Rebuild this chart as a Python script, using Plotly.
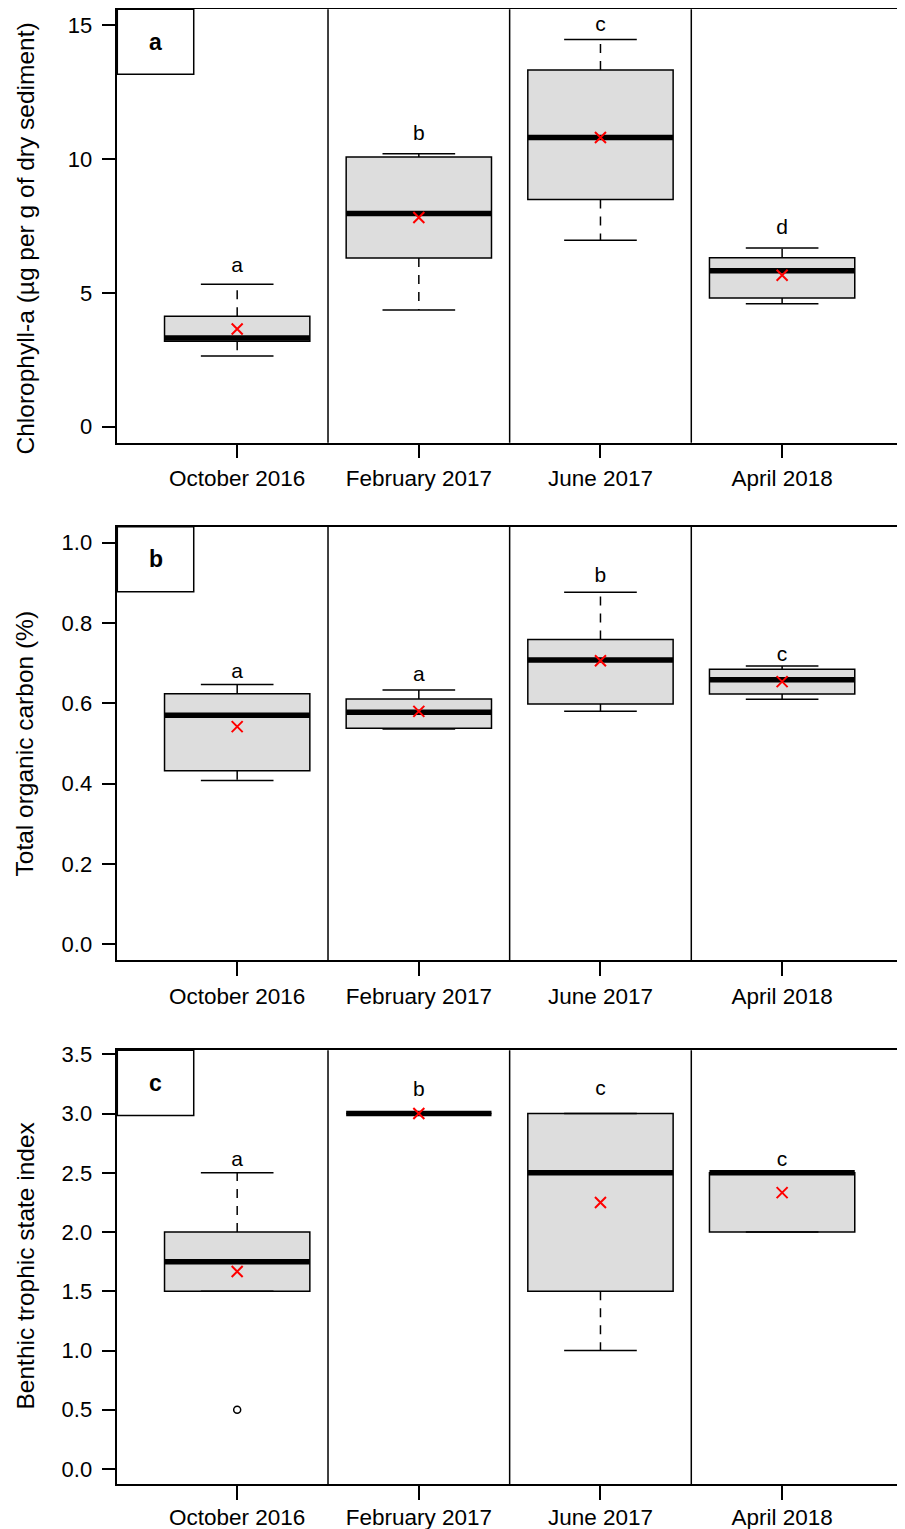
import plotly.graph_objects as go

categories = ["October 2016", "February 2017", "June 2017", "April 2018"]

# Panel a: Chlorophyll-a (µg per g of dry sediment)
chl_lower = [2.64, 4.36, 6.97, 4.59]
chl_q1 = [3.19, 6.30, 8.49, 4.81]
chl_median = [3.31, 7.97, 10.81, 5.83]
chl_q3 = [4.13, 10.08, 13.33, 6.31]
chl_upper = [5.32, 10.20, 14.47, 6.68]
chl_mean = [3.65, 7.82, 10.81, 5.66]
chl_letters = ["a", "b", "c", "d"]
chl_letter_y = [5.98, 10.92, 15.0, 7.39]

# Panel b: Total organic carbon (%)
toc_lower = [0.408, 0.536, 0.580, 0.610]
toc_q1 = [0.432, 0.538, 0.598, 0.623]
toc_median = [0.570, 0.578, 0.708, 0.659]
toc_q3 = [0.624, 0.611, 0.759, 0.685]
toc_upper = [0.647, 0.633, 0.877, 0.693]
toc_mean = [0.542, 0.580, 0.706, 0.654]
toc_letters = ["a", "a", "b", "c"]
toc_letter_y = [0.677, 0.669, 0.915, 0.719]

# Panel c: Benthic trophic state index
btsi_lower = [1.5, 3.0, 1.0, 2.0]
btsi_q1 = [1.5, 3.0, 1.5, 2.0]
btsi_median = [1.75, 3.0, 2.5, 2.5]
btsi_q3 = [2.0, 3.0, 3.0, 2.5]
btsi_upper = [2.5, 3.0, 3.0, 2.5]
btsi_mean = [1.667, 3.0, 2.25, 2.333]
btsi_outlier_cat = ["October 2016"]
btsi_outlier_y = [0.5]
btsi_letters = ["a", "b", "c", "c"]
btsi_letter_y = [2.60, 3.19, 3.20, 2.60]

# Page layout (pixel positions in the browser window; the page body has an 8px margin)
OFF = 8
W, H = 905 - OFF, 1529 - OFF


def px_x(px):
    return (px - OFF) / W


def px_y(py):
    return 1 - (py - OFF) / H


panels = [
    dict(lower=chl_lower, q1=chl_q1, med=chl_median, q3=chl_q3, upper=chl_upper,
         mean=chl_mean, letters=chl_letters, letter_y=chl_letter_y,
         title="Chlorophyll-a (µg per g of dry sediment)", tag="a",
         yrange=[-0.6, 15.6], ticks=[0, 5, 10, 15], fmt="d",
         top=9.3, bottom=442.7, title_py=239, xstand=1, out_cat=[], out_y=[]),
    dict(lower=toc_lower, q1=toc_q1, med=toc_median, q3=toc_q3, upper=toc_upper,
         mean=toc_mean, letters=toc_letters, letter_y=toc_letter_y,
         title="Total organic carbon (%)", tag="b",
         yrange=[-0.04, 1.04], ticks=[0, 0.2, 0.4, 0.6, 0.8, 1.0], fmt=".1f",
         top=526.7, bottom=960.2, title_py=744, xstand=1, out_cat=[], out_y=[]),
    dict(lower=btsi_lower, q1=btsi_q1, med=btsi_median, q3=btsi_q3, upper=btsi_upper,
         mean=btsi_mean, letters=btsi_letters, letter_y=btsi_letter_y,
         title="Benthic trophic state index", tag="c",
         yrange=[-0.129, 3.534], ticks=[0, 0.5, 1.0, 1.5, 2.0, 2.5, 3.0, 3.5], fmt=".1f",
         top=1050.3, bottom=1484.3, title_py=1266, xstand=-2,
         out_cat=btsi_outlier_cat, out_y=btsi_outlier_y),
]

FONT = "Liberation Sans, Arial, sans-serif"
BOXW = 0.8
xpos = list(range(1, len(categories) + 1))

fig = go.Figure()
layout = dict(
    template="none",
    width=W, height=H,
    margin=dict(l=0, r=0, t=0, b=0, pad=0),
    paper_bgcolor="white", plot_bgcolor="white",
    showlegend=False, boxmode="overlay",
    font=dict(family=FONT, color="black"),
    shapes=[], annotations=[],
)

for k, p in enumerate(panels):
    sfx = "" if k == 0 else str(k + 1)
    xa, ya = "x" + sfx, "y" + sfx
    # box bodies (no whiskers)
    fig.add_trace(go.Box(x=xpos, q1=p["q1"], median=p["med"], q3=p["q3"],
                         lowerfence=p["q1"], upperfence=p["q3"], width=BOXW,
                         whiskerwidth=0, fillcolor="#DDDDDD",
                         line=dict(color="black", width=1.5), boxpoints=False,
                         hoverinfo="skip", xaxis=xa, yaxis=ya))
    # dashed whiskers
    wx, wy = [], []
    for i, xp in enumerate(xpos):
        wx += [xp, xp, None, xp, xp, None]
        wy += [p["q3"][i], p["upper"][i], None, p["q1"][i], p["lower"][i], None]
    fig.add_trace(go.Scatter(x=wx, y=wy, mode="lines",
                             line=dict(color="black", width=1.5, dash="9px,8px"),
                             hoverinfo="skip", xaxis=xa, yaxis=ya))
    # staples (degenerate boxes at fences)
    for fence in (p["upper"], p["lower"]):
        fig.add_trace(go.Box(x=xpos, q1=fence, median=fence, q3=fence,
                             lowerfence=fence, upperfence=fence, width=BOXW / 2,
                             whiskerwidth=0, fillcolor="black",
                             line=dict(color="black", width=1.5), boxpoints=False,
                             hoverinfo="skip", xaxis=xa, yaxis=ya))
    # thick median
    fig.add_trace(go.Box(x=xpos, q1=p["med"], median=p["med"], q3=p["med"],
                         lowerfence=p["med"], upperfence=p["med"], width=BOXW,
                         whiskerwidth=0, fillcolor="black",
                         line=dict(color="black", width=5.5), boxpoints=False,
                         hoverinfo="skip", xaxis=xa, yaxis=ya))
    # outliers
    if p["out_y"]:
        ox = [xpos[categories.index(c)] for c in p["out_cat"]]
        fig.add_trace(go.Scatter(x=ox, y=p["out_y"], mode="markers",
                                 marker=dict(symbol="circle-open", size=7, color="black",
                                             line=dict(color="black", width=1.5)),
                                 hoverinfo="skip", xaxis=xa, yaxis=ya))
    # means
    fig.add_trace(go.Scatter(x=xpos, y=p["mean"], mode="markers",
                             marker=dict(symbol="x-thin", size=11, color="#FF0000",
                                         line=dict(color="#FF0000", width=2)),
                             hoverinfo="skip", xaxis=xa, yaxis=ya))
    # significance letters
    fig.add_trace(go.Scatter(x=xpos, y=p["letter_y"], mode="text", text=p["letters"],
                             textposition="middle center",
                             textfont=dict(family=FONT, size=21, color="black"),
                             hoverinfo="skip", xaxis=xa, yaxis=ya))

    layout["xaxis" + sfx] = dict(
        domain=[px_x(117.3), px_x(902)], range=[0.34, 4.66], anchor=ya,
        automargin=False,
        tickmode="array", tickvals=xpos, ticktext=categories,
        showline=True, mirror=True, linecolor="black", linewidth=1.5,
        ticks="outside", ticklen=14, tickwidth=1.5, tickcolor="black",
        tickfont=dict(family=FONT, size=22.5, color="black"),
        ticklabelstandoff=p["xstand"],
        showgrid=False, zeroline=False)
    layout["yaxis" + sfx] = dict(
        domain=[px_y(p["bottom"]), px_y(p["top"])], range=p["yrange"], anchor=xa,
        automargin=False,
        tickmode="array", tickvals=p["ticks"],
        ticktext=[format(t, p["fmt"]) if p["fmt"] != "d" else str(int(t)) for t in p["ticks"]],
        showline=True, mirror=True, linecolor="black", linewidth=1.5,
        ticks="outside", ticklen=14, tickwidth=1.5, tickcolor="black",
        tickfont=dict(family=FONT, size=22, color="black"),
        ticklabelstandoff=5,
        showgrid=False, zeroline=False)
    # group separators
    for xp in xpos[:-1]:
        layout["shapes"].append(dict(type="line", xref=xa, yref=ya + " domain",
                                     x0=xp + 0.5, x1=xp + 0.5, y0=0, y1=1,
                                     line=dict(color="black", width=1.5)))
    # panel tag box
    layout["shapes"].append(dict(type="rect", xref=xa + " domain", yref=ya + " domain",
                                 x0=0, x1=0.0974, y0=0.85, y1=1,
                                 line=dict(color="black", width=1.5)))
    layout["annotations"].append(dict(xref=xa + " domain", yref=ya + " domain",
                                      x=0.0493, y=0.925, text="<b>" + p["tag"] + "</b>",
                                      showarrow=False, xanchor="center", yanchor="middle",
                                      font=dict(family=FONT, size=23, color="black")))
    # y-axis title
    layout["annotations"].append(dict(xref="paper", yref="paper", x=px_x(24.5),
                                      y=px_y(p["title_py"]), text=p["title"], textangle=-90,
                                      showarrow=False, xanchor="center", yanchor="middle",
                                      font=dict(family=FONT, size=24.5, color="black")))

fig.update_layout(**layout)
fig.write_html("out.html")
